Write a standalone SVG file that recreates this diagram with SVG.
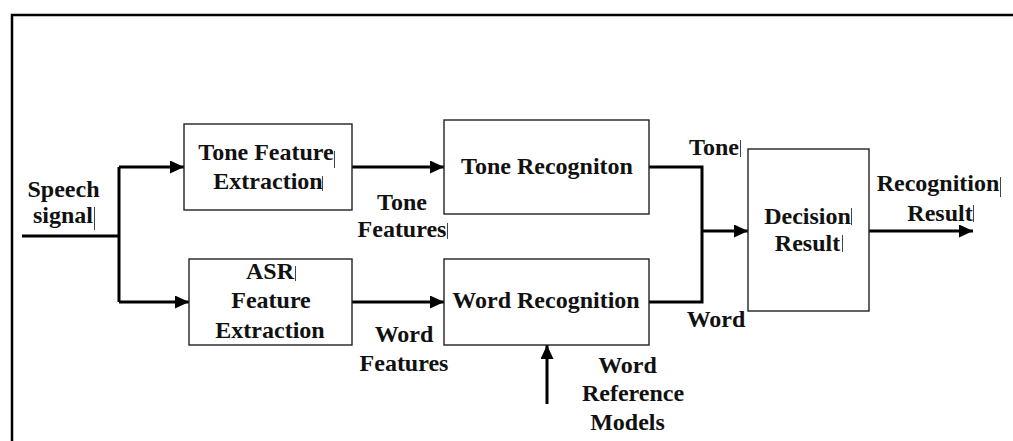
<svg xmlns="http://www.w3.org/2000/svg" width="1013" height="441" viewBox="0 0 1013 441">
<style>
.box{fill:#fff;stroke:#222;stroke-width:1.4}
.t{font-family:"Liberation Serif","Times New Roman",serif;font-weight:bold;font-size:24px;fill:#111;text-anchor:middle}
.c{fill:none;stroke:#000;stroke-width:3}
.bar{stroke:#444;stroke-width:1}
</style>
<defs>
<marker id="ah" markerWidth="14" markerHeight="13" refX="14" refY="6.5" orient="auto" markerUnits="userSpaceOnUse">
<path d="M0,0 L14,6.5 L0,13 Z" fill="#000"/>
</marker>
</defs>
<rect width="1013" height="441" fill="#fff"/>
<path d="M12,441 V15 H1013" fill="none" stroke="#000" stroke-width="2.5"/>

<g id="connectors">
<path class="c" d="M22,236 H119"/>
<path class="c" d="M119,167 V302"/>
<path class="c" d="M119,167 H184" marker-end="url(#ah)"/>
<path class="c" d="M119,302 H189" marker-end="url(#ah)"/>
<path class="c" d="M352,167 H444" marker-end="url(#ah)"/>
<path class="c" d="M352,302 H444" marker-end="url(#ah)"/>
<path class="c" d="M547,404 V345" marker-end="url(#ah)"/>
<path class="c" d="M649,167 H702 V302 H649"/>
<path class="c" d="M702,231 H748" marker-end="url(#ah)"/>
<path class="c" d="M869,231 H973" marker-end="url(#ah)"/>
</g>

<g id="speech">
<text class="t" x="63.5" y="197">Speech</text>
<text class="t" x="63" y="223">signal</text>
<line class="bar" x1="94.5" y1="207" x2="94.5" y2="230"/>
</g>

<g id="tone-feature">
<rect class="box" x="184" y="124" width="168" height="86"/>
<text class="t" x="266" y="160">Tone Feature</text>
<text class="t" x="268" y="189">Extraction</text>
<line class="bar" x1="334.5" y1="151" x2="334.5" y2="168"/>
<line class="bar" x1="322.5" y1="176" x2="322.5" y2="191"/>
</g>

<g id="asr-feature">
<rect class="box" x="189" y="259" width="163" height="86"/>
<text class="t" x="270" y="279">ASR</text>
<text class="t" x="271" y="308">Feature</text>
<text class="t" x="270" y="338">Extraction</text>
<line class="bar" x1="295.5" y1="266" x2="295.5" y2="281"/>
</g>

<g id="tone-recognition">
<rect class="box" x="444" y="120" width="205" height="94"/>
<text class="t" x="547" y="174">Tone Recogniton</text>
</g>

<g id="word-recognition">
<rect class="box" x="444" y="259" width="205" height="86"/>
<text class="t" x="546" y="308">Word Recognition</text>
</g>

<g id="decision">
<rect class="box" x="748" y="149" width="121" height="162"/>
<text class="t" x="807.5" y="224">Decision</text>
<text class="t" x="807.5" y="251">Result</text>
<line class="bar" x1="851.5" y1="208" x2="851.5" y2="225"/>
<line class="bar" x1="842.5" y1="235" x2="842.5" y2="252"/>
</g>

<g id="labels">
<text class="t" x="402" y="210">Tone</text>
<text class="t" x="402" y="237">Features</text>
<line class="bar" x1="447.5" y1="223" x2="447.5" y2="239"/>
<text class="t" x="404" y="342">Word</text>
<text class="t" x="404" y="371">Features</text>
<text class="t" x="627.5" y="373">Word</text>
<text class="t" x="633" y="401">Reference</text>
<text class="t" x="627.5" y="430">Models</text>
<text class="t" x="714" y="155">Tone</text>
<line class="bar" x1="740.5" y1="140" x2="740.5" y2="157"/>
<text class="t" x="716" y="327">Word</text>
<text class="t" x="938" y="191">Recognition</text>
<line class="bar" x1="1000.5" y1="177" x2="1000.5" y2="197"/>
<text class="t" x="940" y="221">Result</text>
<line class="bar" x1="973.5" y1="205" x2="973.5" y2="222"/>
</g>
</svg>
